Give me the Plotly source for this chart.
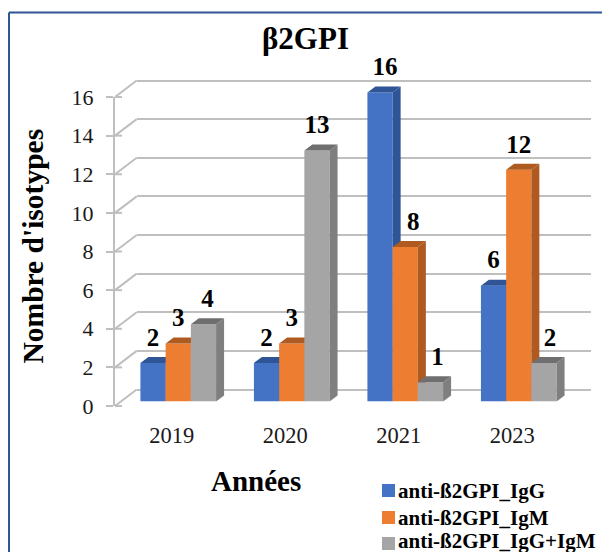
import plotly.graph_objects as go

# Data
years = ["2019", "2020", "2021", "2023"]
series_names = ["anti-ß2GPI_IgG", "anti-ß2GPI_IgM", "anti-ß2GPI_IgG+IgM"]
igg = [2, 2, 16, 6]
igm = [3, 3, 8, 12]
igg_igm = [4, 13, 1, 2]
tick_values = list(range(0, 17, 2))

# Styling
front_colors = ["#4472C4", "#ED7D31", "#A5A5A5"]
top_colors = ["#2F5597", "#AE5A21", "#6F6F6F"]
side_colors = ["#2F5597", "#AE5A21", "#7F7F7F"]
grid_color = "#BFBFBF"
frame_color = "#2F5597"
serif = "Liberation Serif"
W, H = 602, 552

# Layout of the pseudo-3D box, in pixels
front_left, front_right = 115.0, 569.0
front_top, front_bottom = 97.0, 406.0
wall_dx, wall_dy = 21.7, 16.5     # shift of the back wall
bar_dx, bar_dy = 6.5, 4.5         # shift of the bars' front faces
depth_px_x, depth_px_y = 8.0, 6.0 # depth of each bar
px_per_cat = (front_right - front_left) / 4
px_per_unit = (front_bottom - front_top) / 16
bar_width = 2 / 9                 # in category units
y_top_bars = 18                   # headroom so tall bars keep their top faces
wall_pad = 0.5                    # room around the back wall so its end gridlines show

# Horizontal nudges (pixels) for value labels sitting beside a taller neighbour
label_nudge = [[0, 0, 5, 0], [0, 0, 8, 0], [4, 0, 7, 6]]
label_lift_px = 11


def xdom(a, b):
    return [a / W, b / W]


def ydom(top, bottom):
    return [1 - bottom / H, 1 - top / H]


fig = go.Figure()
layout_axes = {}
hidden = dict(showgrid=False, zeroline=False, showticklabels=False, ticks="",
              showline=False)

# Back wall: carries the horizontal gridlines
layout_axes["xaxis"] = dict(domain=xdom(front_left + wall_dx, front_right + wall_dx),
                            range=[-0.5, 3.5], anchor="y", **hidden)
layout_axes["yaxis"] = dict(domain=ydom(front_top - wall_dy - wall_pad * px_per_unit,
                                        front_bottom - wall_dy + wall_pad * px_per_unit),
                            range=[-wall_pad, 16 + wall_pad], anchor="x",
                            tickvals=tick_values, showgrid=True, gridcolor=grid_color,
                            gridwidth=2, zeroline=False, showticklabels=False, ticks="",
                            showline=False)

# Front plane: carries the value and category axes
layout_axes["xaxis2"] = dict(domain=xdom(front_left, front_right), range=[-0.5, 3.5],
                             anchor="y2", tickvals=list(range(4)), ticktext=years,
                             showgrid=False, zeroline=False, showline=False, ticks="",
                             ticklabelstandoff=13,
                             tickfont=dict(family=serif, size=22.5, color="#1a1a1a"))
layout_axes["yaxis2"] = dict(domain=ydom(front_top, front_bottom), range=[0, 16],
                             anchor="x2", tickvals=tick_values, showgrid=False,
                             zeroline=False, showline=True, linecolor=grid_color,
                             linewidth=2, ticks="outside", ticklen=7, tickwidth=2,
                             tickcolor=grid_color, ticklabelstandoff=8,
                             tickfont=dict(family=serif, size=22, color="#1a1a1a"))

fig.add_trace(go.Scatter(x=[], y=[], xaxis="x", yaxis="y", showlegend=False))
fig.add_trace(go.Scatter(x=[], y=[], xaxis="x2", yaxis="y2", showlegend=False))

# Short crossing ticks and diagonals joining the front plane to the back wall
shapes = []
for v in tick_values:
    y_front = front_bottom - v * px_per_unit
    shapes.append(dict(type="line", xref="paper", yref="paper", layer="below",
                       x0=front_left / W, x1=(front_left + wall_dx) / W,
                       y0=1 - y_front / H, y1=1 - (y_front - wall_dy) / H,
                       line=dict(color=grid_color, width=2)))
    shapes.append(dict(type="line", xref="paper", yref="paper", layer="below",
                       x0=front_left / W, x1=(front_left + 7) / W,
                       y0=1 - y_front / H, y1=1 - y_front / H,
                       line=dict(color=grid_color, width=2)))

# Outer frame of the chart (open on the right and at the bottom)
for x0, y0, x1, y1 in [(9, 12.5, 9, 552), (9, 12.5, 602, 12.5)]:
    shapes.append(dict(type="line", xref="paper", yref="paper", layer="below",
                       x0=x0 / W, x1=x1 / W, y0=1 - y0 / H, y1=1 - y1 / H,
                       line=dict(color=frame_color, width=2)))

# Bars: one overlaid axis pair per series, so later series paint over earlier sides
bars_left = front_left + bar_dx
bars_bottom = front_bottom - bar_dy
dx = depth_px_x / px_per_cat
dy = depth_px_y / px_per_unit
values = [igg, igm, igg_igm]
for k, (name, vals) in enumerate(zip(series_names, values)):
    n = k + 3
    xa, ya = f"x{n}", f"y{n}"
    layout_axes[f"xaxis{n}"] = dict(
        domain=xdom(bars_left, bars_left + 4 * px_per_cat), range=[-0.5, 3.5],
        anchor=ya, **hidden, **({} if k == 0 else {"overlaying": "x3"}))
    layout_axes[f"yaxis{n}"] = dict(
        domain=ydom(bars_bottom - y_top_bars * px_per_unit, bars_bottom),
        range=[0, y_top_bars], anchor=xa, **hidden,
        **({} if k == 0 else {"overlaying": "y3"}))

    offsets = [i + (k - 1.5) * bar_width for i in range(len(vals))]
    fig.add_trace(go.Bar(x=list(range(len(vals))), y=vals, name=name, xaxis=xa, yaxis=ya,
                         width=bar_width, offset=(k - 1.5) * bar_width, showlegend=False,
                         marker=dict(color=front_colors[k], line=dict(width=0))))
    top_x, top_y, side_x, side_y = [], [], [], []
    for left, v in zip(offsets, vals):
        right = left + bar_width
        top_x += [left, left + dx, right + dx, right, left, None]
        top_y += [v, v + dy, v + dy, v, v, None]
        side_x += [right, right + dx, right + dx, right, right, None]
        side_y += [0, dy, v + dy, v, 0, None]
    fig.add_trace(go.Scatter(x=side_x, y=side_y, mode="lines", fill="toself",
                             fillcolor=side_colors[k], line=dict(width=0),
                             xaxis=xa, yaxis=ya, showlegend=False, hoverinfo="skip"))
    fig.add_trace(go.Scatter(x=top_x, y=top_y, mode="lines", fill="toself",
                             fillcolor=top_colors[k], line=dict(width=0),
                             xaxis=xa, yaxis=ya, showlegend=False, hoverinfo="skip"))
    # Value labels above each bar
    fig.add_trace(go.Scatter(
        x=[o + bar_width / 2 + nudge / px_per_cat for o, nudge in zip(offsets, label_nudge[k])],
        y=[v + label_lift_px / px_per_unit for v in vals], mode="text",
        text=[f"<b>{v}</b>" for v in vals], textposition="top center",
        textfont=dict(family=serif, size=25, color="black"),
        xaxis=xa, yaxis=ya, showlegend=False, hoverinfo="skip"))

# Titles and the legend block, placed in the free space around the plot
annotations = [
    dict(text="<b>Nombre d'isotypes</b>", x=33, y=246.5, textangle=-90, size=29.5),
    dict(text="<b>Années</b>", x=256, y=481, textangle=0, size=29),
]
annotations = [
    dict(text=a["text"], x=a["x"] / W, y=1 - a["y"] / H, xref="paper", yref="paper",
         xanchor="center", yanchor="middle", textangle=a["textangle"], showarrow=False,
         font=dict(family=serif, size=a["size"], color="black"))
    for a in annotations
]
legend_x, legend_rows = 382, [490.5, 517.5, 543.5]
legend_text_floor = 540.5  # keeps the last legend line's descenders on the page
for name, color, row in zip(series_names, front_colors, legend_rows):
    shapes.append(dict(type="rect", xref="paper", yref="paper", line=dict(width=0),
                       x0=legend_x / W, x1=(legend_x + 13) / W,
                       y0=1 - (row - 6.5) / H, y1=1 - (row + 6.5) / H, fillcolor=color))
    annotations.append(dict(text=f"<b>{name}</b>", x=(legend_x + 14) / W,
                            y=1 - min(row, legend_text_floor) / H,
                            xref="paper", yref="paper", xanchor="left", yanchor="middle",
                            showarrow=False, font=dict(family=serif, size=21, color="black")))

fig.update_layout(
    width=W, height=H, margin=dict(l=0, r=0, t=0, b=0, autoexpand=False),
    paper_bgcolor="white", plot_bgcolor="rgba(0,0,0,0)", showlegend=False,
    shapes=shapes, annotations=annotations,
    title=dict(text="<b>β2GPI</b>", x=305.5 / W, xanchor="center", y=1 - 38 / H,
               yanchor="middle", font=dict(family=serif, size=31, color="black")),
    **layout_axes,
)

fig.write_html("out.html", config={"displayModeBar": False})
